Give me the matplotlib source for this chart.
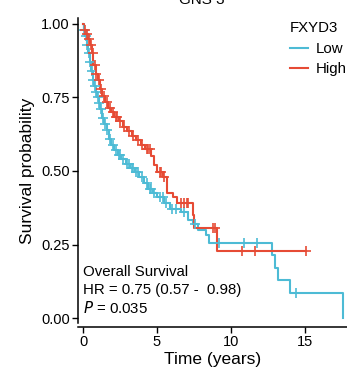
import numpy as np
import matplotlib
matplotlib.use("Agg")
import matplotlib.pyplot as plt
from matplotlib.lines import Line2D

plt.rcParams['font.family'] = ['Liberation Sans', 'DejaVu Sans']

# Kaplan-Meier step points: event time (years) and survival after that event
low_event_times = [0.05, 0.15, 0.25, 0.35, 0.45, 0.55, 0.65, 0.75, 0.85, 0.95,
                   1.05, 1.15, 1.3, 1.45, 1.6, 1.75, 1.9, 2.1, 2.35, 2.6,
                   2.9, 3.2, 3.5, 3.8, 4.1, 4.4, 4.7, 5.0, 5.5, 5.9,
                   6.6, 7.1, 7.4, 7.8, 8.3, 8.5, 12.8, 13.0, 13.2, 14.0, 17.6]
low_surv = [0.98, 0.96, 0.93, 0.90, 0.87, 0.84, 0.81, 0.79, 0.77, 0.75,
            0.73, 0.71, 0.68, 0.66, 0.64, 0.61, 0.59, 0.57, 0.555, 0.54,
            0.525, 0.51, 0.495, 0.48, 0.46, 0.44, 0.425, 0.41, 0.39, 0.37,
            0.36, 0.335, 0.32, 0.30, 0.282, 0.255, 0.214, 0.17, 0.13, 0.085, 0.0]
low_censor = [0.1, 0.2, 0.3, 0.4, 0.5, 0.6, 0.7, 0.8, 0.9, 1.0, 1.1, 1.2, 1.35,
              1.5, 1.65, 1.8, 2.0, 2.2, 2.4, 2.5, 2.7, 3.0, 3.1, 3.3, 3.4, 3.6,
              3.7, 4.0, 4.3, 4.5, 4.6, 4.8, 5.2, 5.4, 5.6, 6.0, 6.3, 6.8, 7.6,
              9.2, 10.9, 11.75, 14.4]
low_end = 17.6

high_event_times = [0.1, 0.2, 0.35, 0.5, 0.6, 0.7, 0.85, 1.0, 1.15, 1.3,
                    1.5, 1.7, 1.9, 2.1, 2.4, 2.7, 3.0, 3.3, 3.6, 3.9,
                    4.2, 4.6, 4.8, 5.0, 5.4, 5.7, 6.1, 6.35, 7.4, 7.5, 9.05]
high_surv = [0.98, 0.965, 0.95, 0.93, 0.90, 0.86, 0.83, 0.81, 0.78, 0.755,
             0.735, 0.715, 0.70, 0.685, 0.67, 0.65, 0.635, 0.62, 0.605, 0.59,
             0.575, 0.55, 0.52, 0.495, 0.48, 0.425, 0.41, 0.39, 0.35, 0.306, 0.228]
high_censor = [0.15, 0.3, 0.4, 0.55, 0.65, 0.8, 0.9, 1.1, 1.2, 1.4, 1.6, 1.8,
               2.0, 2.2, 2.3, 2.5, 2.8, 3.1, 3.4, 3.7, 4.0, 4.3, 4.4, 4.5, 5.2,
               5.3, 5.5, 6.6, 6.8, 7.0, 7.1, 8.8, 8.9, 10.75, 11.6, 15.07]
high_end = 15.07

x_ticks = [0, 5, 10, 15]
y_ticks = [0.0, 0.25, 0.5, 0.75, 1.0]
y_tick_labels = ['0.00', '0.25', '0.50', '0.75', '1.00']

groups = [
    ('Low', low_event_times, low_surv, low_censor, low_end, '#4DBBD5'),
    ('High', high_event_times, high_surv, high_censor, high_end, '#E64B35'),
]

W, H = 347, 378
fig = plt.figure(figsize=(W / 100, H / 100), dpi=100)
ax = fig.add_axes([78 / W, 1 - 323 / H, (347 - 78) / W, (323 - 18) / H])

for name, t, s, cens, t_end, color in groups:
    tt = np.concatenate([[0.0], t, [t_end]])
    ss = np.concatenate([[1.0], s, [s[-1]]])
    ax.step(tt, ss, where='post', color=color, lw=1.5, label=name, zorder=3)
    cens = np.asarray(cens)
    idx = np.searchsorted(np.asarray(t), cens, side='right')
    cs = np.concatenate([[1.0], s])[idx]
    ax.plot(cens, cs, linestyle='none', marker='+', ms=7, mew=1.2,
            color=color, zorder=4)

px_per_year = 14.8
ax.set_xlim((78 - 83) / px_per_year, (347 - 83) / px_per_year)
px_per_unit = 294.0
ax.set_ylim(-(323 - 318) / px_per_unit, 1 + (24 - 18) / px_per_unit)

ax.set_xticks(x_ticks)
ax.set_yticks(y_ticks)
ax.set_yticklabels(y_tick_labels)
ax.tick_params(labelsize=10.5, length=4, width=1, color='black', pad=2)

for side in ['top', 'right']:
    ax.spines[side].set_visible(False)
ax.spines['left'].set_linewidth(1.1)
ax.spines['bottom'].set_linewidth(1.1)
ax.spines['bottom'].set_position(('outward', 3))

ax.set_xlabel('Time (years)', fontsize=12.5, labelpad=2)
ax.set_ylabel('Survival probability', fontsize=12.5, labelpad=4)

tx = ax.transAxes
x_txt = (83 - 78) / (347 - 78)
ax.text(x_txt, 1 - (272 - 18) / (323 - 18),
        'Overall Survival', fontsize=10.8, va='center', transform=tx)
ax.text(x_txt, 1 - (290 - 18) / (323 - 18),
        'HR = 0.75 (0.57 -  0.98)', fontsize=10.8, va='center', transform=tx)
ax.text(x_txt, 1 - (308 - 18) / (323 - 18),
        '$\\it{P}$ = 0.035', fontsize=10.8, va='center', transform=tx)

handles = [Line2D([0], [0], color=c, lw=1.5) for _, _, _, _, _, c in groups]
labels = [g[0] for g in groups]
leg = fig.legend(handles, labels, title='FXYD3', loc='upper left',
                 bbox_to_anchor=(290 / W, 1 - 21 / H), frameon=False,
                 fontsize=10.8, title_fontsize=10.8, handlelength=1.2,
                 handletextpad=0.5, labelspacing=0.45, borderpad=0.0,
                 borderaxespad=0.0)
leg._legend_box.align = 'left'

fig.text(202 / W, 1 - 4 / H, 'GNS 3', ha='center', va='baseline', fontsize=11)

fig.savefig('out.png', dpi=100)
